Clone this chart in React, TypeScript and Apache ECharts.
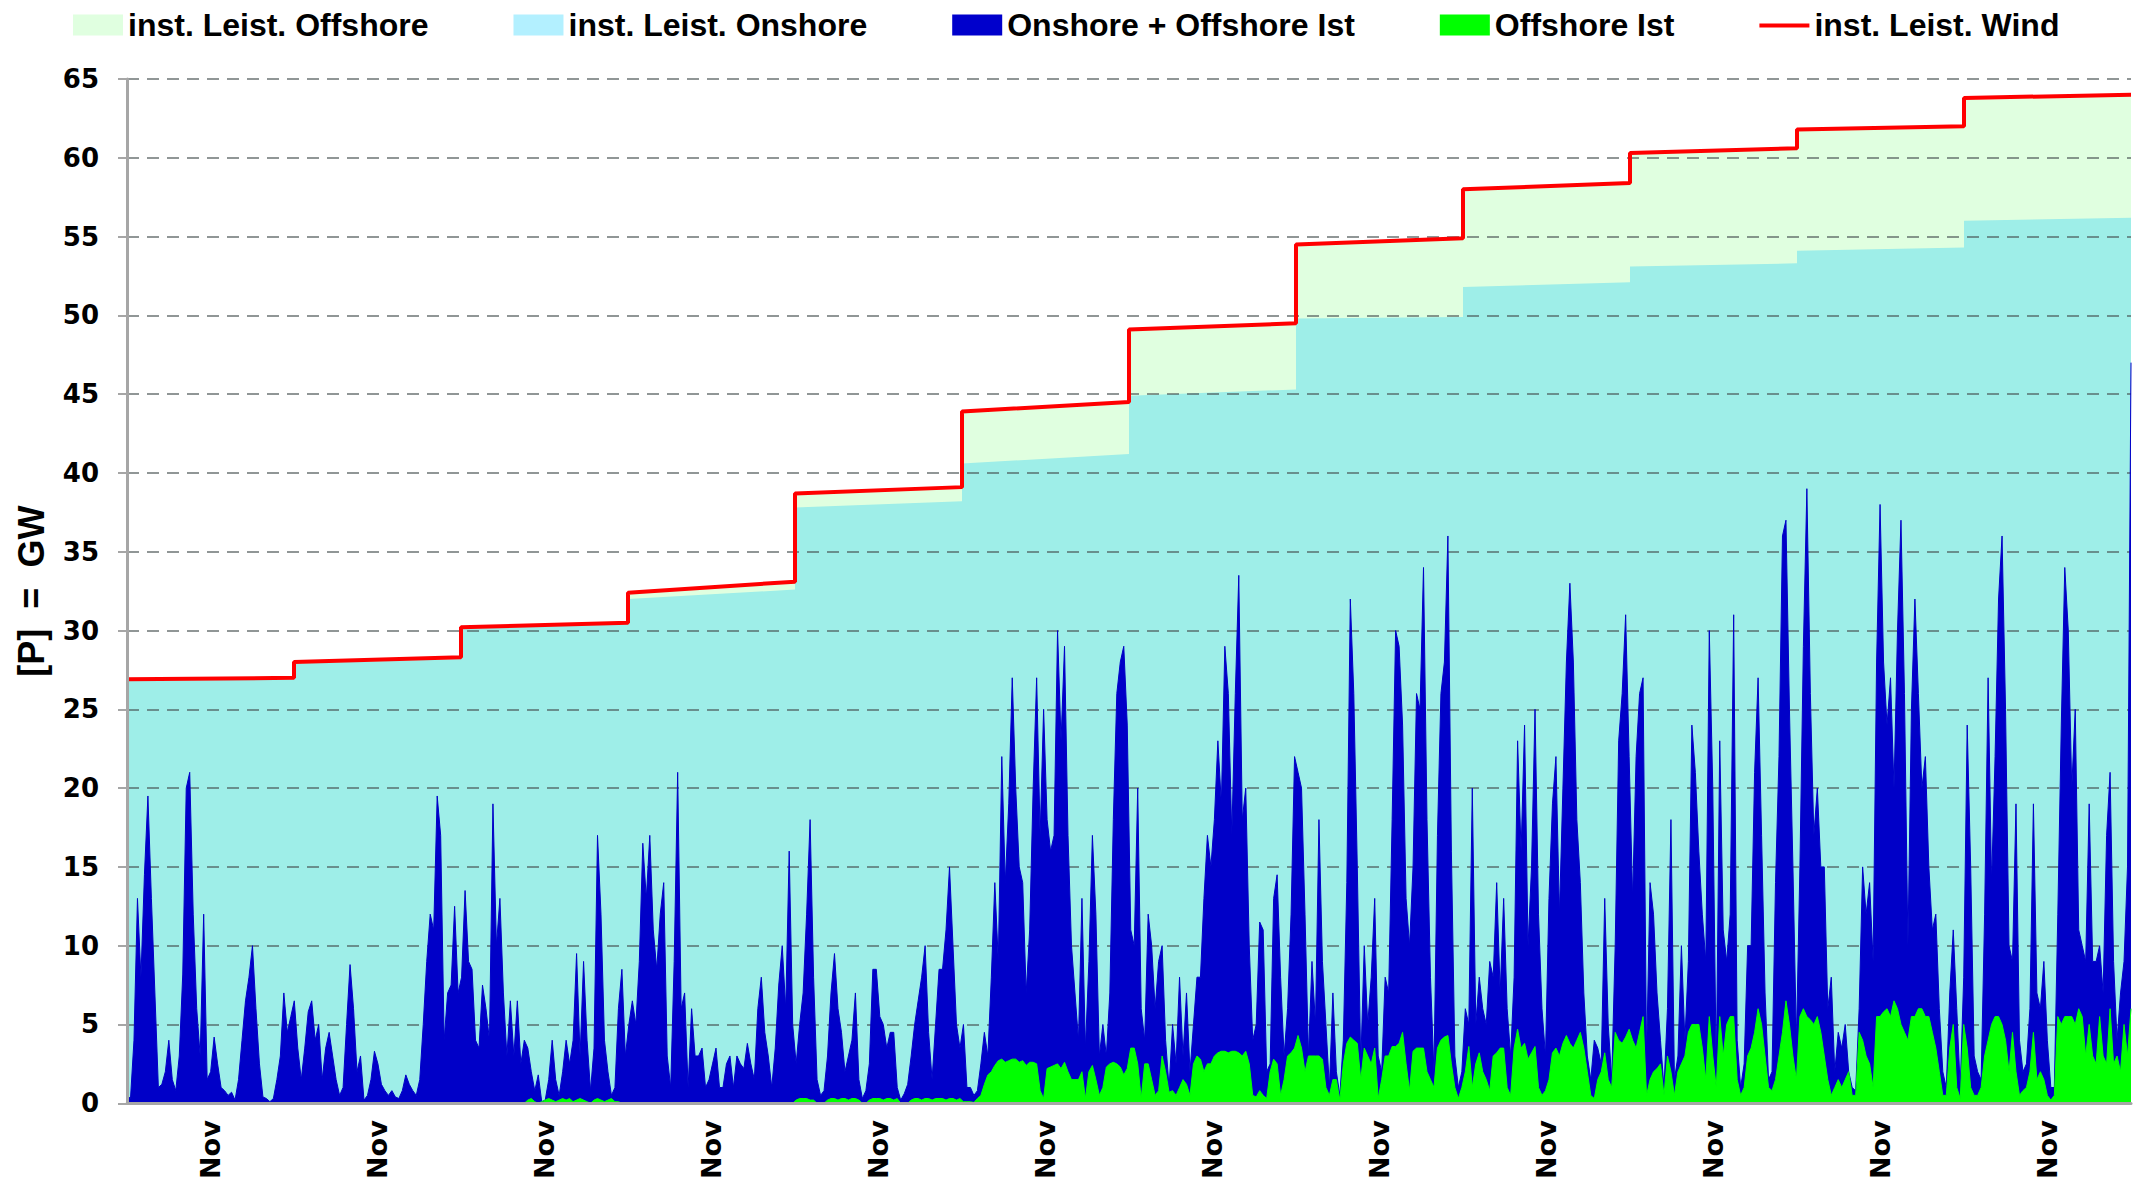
import React, { useEffect, useRef } from 'react';
import * as echarts from 'echarts';

// x-axis tick labels (one per year band)
const monthLabels = ['Nov', 'Nov', 'Nov', 'Nov', 'Nov', 'Nov', 'Nov', 'Nov', 'Nov', 'Nov', 'Nov', 'Nov'];

// installed capacity (GW) at start / end of each of the 12 years
const totalStart = [26.9, 28.0, 30.2, 32.4, 38.7, 43.9, 49.1, 54.5, 58.0, 60.3, 61.8, 63.8];
const totalEnd = [27.0, 28.3, 30.5, 33.1, 39.1, 44.5, 49.5, 54.9, 58.4, 60.6, 62.0, 64.0];
const onshoreStart = [26.8, 27.9, 30.1, 32.0, 37.8, 40.6, 44.9, 49.8, 51.8, 53.1, 54.1, 56.0];
const onshoreEnd = [26.9, 28.2, 30.4, 32.6, 38.2, 41.2, 45.3, 49.9, 52.1, 53.3, 54.3, 56.2];

// Onshore + Offshore Ist (GW), 48 readings per year
const istYear1 = [0.5, 0.3, 4, 13, 8, 14.5, 19.5, 13, 7, 1, 1.2, 2, 4, 1.5, 0.8, 3, 8.2, 20, 21, 12, 6, 3, 12, 1.5, 2, 4.2, 2.5, 1, 0.8, 0.5, 0.7, 0.2, 1.5, 4, 6.5, 8, 10, 6, 2.5, 0.4, 0.3, 0.1, 0.3, 1.5, 3, 7, 4.5, 5.5];
const istYear2 = [6.5, 3.5, 1.5, 3.5, 5.8, 6.5, 4, 5, 1.5, 3.5, 4.5, 3, 1.5, 0.5, 1, 5, 8.8, 6, 2, 3, 0.2, 0.5, 1.5, 3.3, 2.5, 1.2, 0.8, 0.5, 0.8, 0.4, 0.3, 0.8, 1.8, 1.2, 0.8, 0.5, 1.5, 5, 9, 12, 11, 19.5, 17, 4, 7, 7.5, 12.5, 7];
const istYear3 = [8, 13.5, 9, 8.5, 4, 3.5, 7.5, 6, 4, 19, 10, 13, 7, 3, 6.5, 3, 6.5, 2.5, 4, 3.5, 2, 0.8, 1.8, 0.1, 0.2, 1.5, 4, 1.5, 0.5, 2, 4, 2.5, 4, 9.5, 3, 9, 4, 0.8, 3.5, 17, 12, 4, 2, 0.5, 1, 6, 8.5, 3];
const istYear4 = [5, 6.5, 5, 9, 16.5, 13, 17, 11, 8.5, 12, 14, 3, 1, 9, 21, 6, 7, 1, 6, 3, 3, 3.5, 1, 1.5, 2.5, 3.5, 1, 1, 2.5, 3, 1, 3, 2.5, 2.2, 3.8, 2.5, 1.5, 6, 8, 4.5, 3, 1, 3.5, 7.5, 10, 6, 16, 5];
const istYear5 = [2.5, 5, 7, 12, 18, 8, 1.5, 0.5, 0.8, 3, 7, 9.5, 6, 4.5, 2, 3, 4, 7, 1.5, 0.3, 0.8, 2.5, 8.5, 8.5, 5.5, 5, 3.5, 4.5, 4.5, 1, 0.2, 0.6, 1.2, 3, 5, 6.5, 8, 10, 4.5, 1.5, 5, 8.5, 8.5, 11, 15, 10, 5, 3.5];
const istYear6 = [5, 1, 1, 0.5, 0.8, 2.5, 4.5, 3, 8, 14, 9, 22, 14, 19, 27, 20, 15, 14, 7, 11, 20, 27, 17, 25, 18, 16, 17, 30, 23, 29, 17, 10, 7, 4, 13, 3.5, 9, 17, 12, 3, 5, 3, 7, 18, 26, 28, 29, 24];
const istYear7 = [11, 10, 20, 6, 4, 12, 10, 6, 9, 10, 4, 1, 5, 2.5, 8, 3, 7, 2, 5, 8, 8, 13, 17, 15, 18, 23, 19, 29, 26, 17, 26, 33.5, 18, 20, 10, 4, 5, 11.5, 11, 2, 2.5, 13, 14.5, 8, 3, 6, 12, 22];
const istYear8 = [21, 20, 12, 3, 9, 5, 18, 9, 5, 1, 7, 2, 0.5, 4, 14, 32, 26, 15, 2.5, 10, 5, 8, 13, 3, 2, 8, 7, 18, 30, 29, 24, 13, 10, 15, 26, 25, 34, 18, 8, 2, 17, 26, 28, 36, 16, 3, 1, 2];
const istYear9 = [6, 5, 20, 5, 8, 6, 5, 9, 8, 14, 7, 13, 6, 3, 8, 23, 16, 24, 10, 15, 25, 12, 6, 3, 13, 19, 22, 12, 20, 28, 33, 28, 18, 14, 7, 3, 1.5, 4, 3.5, 2.5, 13, 5, 1.5, 10, 23, 26, 31, 22];
const istYear10 = [13, 22, 26, 27, 3, 14, 12, 7, 4, 1, 6, 18, 1.5, 3, 10, 4, 9, 24, 21, 16, 12, 9, 30, 20, 2, 23, 11, 9, 12, 31, 4, 1, 2.5, 10, 10, 21, 27, 17, 7, 1.5, 2, 14, 22, 36, 37, 25, 15, 4];
const istYear11 = [15, 29, 39, 26, 17, 20, 15, 15, 6, 8, 2, 4.5, 3.5, 5, 2, 1, 0.8, 6, 15, 12, 14, 9, 28, 38, 28, 24, 27, 20, 30, 37, 26, 10, 25, 32, 26, 20, 22, 15, 11, 12, 6, 2, 1, 7, 11, 6, 1, 8];
const istYear12 = [24, 15, 3, 2, 1.5, 12, 27, 14, 22, 32, 36, 25, 10, 9, 19, 4, 2, 2.5, 6, 19, 7, 6, 9, 4, 1, 1, 12, 24, 34, 30, 20, 25, 11, 10, 9, 19, 9, 9, 10, 7, 17, 21, 9, 4, 7, 9, 15, 47];

// Offshore Ist (GW), 48 readings per year
const offYear1 = [0, 0, 0, 0, 0, 0, 0, 0, 0, 0, 0, 0, 0, 0, 0, 0, 0, 0, 0, 0, 0, 0, 0, 0, 0, 0, 0, 0, 0, 0, 0, 0, 0, 0, 0, 0, 0, 0, 0, 0, 0, 0, 0, 0, 0, 0, 0, 0];
const offYear2 = [0, 0, 0, 0, 0, 0, 0, 0, 0, 0, 0, 0, 0, 0, 0, 0, 0, 0, 0, 0, 0, 0, 0, 0, 0, 0, 0, 0, 0, 0, 0, 0, 0, 0, 0, 0, 0, 0, 0, 0, 0, 0, 0, 0, 0, 0, 0, 0];
const offYear3 = [0, 0, 0, 0, 0, 0, 0, 0, 0, 0, 0, 0, 0, 0, 0, 0, 0, 0, 0, 0.2, 0.3, 0.1, 0, 0.1, 0.2, 0.3, 0.2, 0.1, 0.2, 0.3, 0.2, 0.3, 0.1, 0.2, 0.3, 0.2, 0.1, 0, 0.2, 0.3, 0.2, 0.1, 0.2, 0.3, 0.1, 0.1, 0, 0];
const offYear4 = [0, 0, 0, 0, 0, 0, 0, 0, 0, 0, 0, 0, 0, 0, 0, 0, 0, 0, 0, 0, 0, 0, 0, 0, 0, 0, 0, 0, 0, 0, 0, 0, 0, 0, 0, 0, 0, 0, 0, 0, 0, 0, 0, 0, 0, 0, 0, 0];
const offYear5 = [0.2, 0.3, 0.3, 0.3, 0.2, 0.2, 0, 0, 0, 0.2, 0.3, 0.3, 0.2, 0.3, 0.3, 0.2, 0.3, 0.3, 0.2, 0, 0, 0.2, 0.3, 0.3, 0.3, 0.2, 0.3, 0.3, 0.2, 0.3, 0, 0, 0, 0.2, 0.3, 0.3, 0.2, 0.3, 0.3, 0.2, 0.3, 0.3, 0.3, 0.2, 0.3, 0.3, 0.2, 0.3];
const offYear6 = [0.1, 0.1, 0.1, 0.05, 0.3, 0.5, 1.2, 1.8, 2, 2.4, 2.7, 2.8, 2.6, 2.7, 2.8, 2.8, 2.6, 2.7, 2.4, 2.6, 2.6, 2.5, 0.8, 0.3, 2.2, 2.3, 2.4, 2.5, 2.2, 2.6, 2.0, 1.5, 1.5, 1.5, 2.0, 0.3, 2.0, 2.4, 1.5, 0.5, 1.0, 2.3, 2.5, 2.6, 2.5, 2.3, 1.8, 2.2];
const offYear7 = [3.5, 3.5, 2.5, 0.3, 2.5, 2.5, 1.5, 0.5, 0.8, 3, 2, 0.7, 0.8, 0.5, 1, 1.5, 1.2, 0.5, 2.5, 3, 2.8, 2, 2.5, 2.5, 3, 3.2, 3.3, 3.3, 3.2, 3.3, 3.3, 3.2, 3, 3.3, 2.5, 0.5, 0.4, 0.8, 0.5, 0.3, 2, 2.8, 2.5, 0.5, 1.5, 3, 3.2, 3.5];
const offYear8 = [4.3, 3.5, 2, 3, 3, 3, 3, 2.8, 1, 0.5, 1.5, 1.5, 0.2, 2.5, 3.8, 4.2, 4, 3.8, 1.5, 3.5, 3, 2.5, 3.5, 0.3, 1.5, 3, 3, 3.6, 3.6, 3.8, 4.5, 2.5, 0.8, 3.3, 3.5, 3.5, 3.5, 2, 1.5, 1, 3.5, 4, 4.2, 4.3, 2.5, 1, 0.3, 1];
const offYear9 = [2, 3.6, 1, 2.5, 3.2, 2, 1.5, 0.8, 3, 3.2, 3.5, 3.5, 1, 0.5, 3.5, 4.7, 3.5, 3.8, 2.8, 3.2, 3.6, 1, 0.5, 0.8, 1.5, 3.2, 3.5, 3, 3.8, 4.3, 3.8, 3.5, 4, 4.5, 3.5, 2, 0.5, 0.3, 1.5, 2, 3.2, 1.5, 1, 4.5, 4, 3.8, 4.2, 4.7];
const offYear10 = [4, 3.5, 4.5, 5.5, 0.5, 1.5, 2, 2.2, 2.5, 0.5, 3, 2, 0.5, 2, 2.5, 3, 4.5, 5, 5, 5, 3.5, 1.5, 5.5, 3, 1, 5.5, 3, 5, 5.5, 5.5, 1.5, 0.5, 1, 3, 3.5, 4.5, 6, 5, 3, 1, 0.8, 1.5, 3, 4.5, 6.5, 5, 3, 1.5];
const offYear11 = [5.5, 6, 5.5, 5.3, 5, 5.5, 4.5, 3, 1.5, 0.5, 1, 1.5, 1, 1.5, 2, 0.5, 0.5, 4.5, 4, 3, 2.5, 1, 5.5, 5.5, 5.8, 6, 5.5, 6.5, 6, 5, 4.5, 4, 5.5, 5.5, 6, 6, 5.5, 5.5, 4.5, 3.5, 2, 0.5, 0.5, 3.5, 5, 1, 0.3, 5];
const offYear12 = [3.5, 1, 0.5, 0.5, 1, 3, 4, 5, 5.5, 5.5, 5, 4, 2, 4.5, 2, 0.5, 0.8, 1, 2, 4.5, 1.5, 2, 1.5, 0.5, 0.2, 0.5, 5.5, 5, 5.5, 5.5, 5.5, 5, 6, 5.5, 3, 5, 3, 2.5, 5.5, 3, 2.5, 6, 2.5, 3, 2, 5, 3, 6];

const seriesNames = {
  offshoreCap: 'inst. Leist. Offshore',
  onshoreCap: 'inst. Leist. Onshore',
  ist: 'Onshore + Offshore Ist',
  offIst: 'Offshore Ist',
  wind: 'inst. Leist. Wind',
};

function stepPoints(start: number[], end: number[]) {
  const pts: number[][] = [];
  for (let k = 0; k < start.length; k++) {
    pts.push([k, start[k]]);
    pts.push([k + 1, end[k]]);
  }
  return pts;
}

function spread(values: number[], years: number) {
  const n = values.length;
  return values.map((v, i) => [(i * years) / (n - 1), v]);
}

export default function App() {
  const ref = useRef<HTMLDivElement>(null);

  useEffect(() => {
    if (!ref.current) return;
    const chart = echarts.init(ref.current, undefined, { renderer: 'svg' });

    const ist = [
      ...istYear1, ...istYear2, ...istYear3, ...istYear4, ...istYear5, ...istYear6,
      ...istYear7, ...istYear8, ...istYear9, ...istYear10, ...istYear11, ...istYear12,
    ];
    const off = [
      ...offYear1, ...offYear2, ...offYear3, ...offYear4, ...offYear5, ...offYear6,
      ...offYear7, ...offYear8, ...offYear9, ...offYear10, ...offYear11, ...offYear12,
    ];
    const years = monthLabels.length;
    const totalPts = stepPoints(totalStart, totalEnd);
    const onshorePts = stepPoints(onshoreStart, onshoreEnd);

    const boldSans = { fontFamily: 'Liberation Sans', fontWeight: 'bold' as const, color: '#000' };
    const tickFont = { fontFamily: 'DejaVu Sans', fontWeight: 'bold' as const, color: '#000' };

    chart.setOption({
      animation: false,
      backgroundColor: '#ffffff',
      legend: {
        left: 68,
        top: 4,
        itemWidth: 50,
        itemHeight: 21,
        itemGap: 85,
        textStyle: { ...boldSans, fontSize: 32 },
        data: [
          { name: seriesNames.offshoreCap, icon: 'rect', itemStyle: { color: '#E0FFE0', borderWidth: 0 } },
          { name: seriesNames.onshoreCap, icon: 'rect', itemStyle: { color: '#B3F0FF', borderWidth: 0 } },
          { name: seriesNames.ist, icon: 'rect', itemStyle: { color: '#0000CC', borderWidth: 0 } },
          { name: seriesNames.offIst, icon: 'rect', itemStyle: { color: '#00FF00', borderWidth: 0 } },
          {
            name: seriesNames.wind,
            icon: 'path://M0,0L0.1,0M0,9L50,9L50,13L0,13ZM50,21L49.9,21',
            itemStyle: { color: '#FF0000', borderWidth: 0 },
          },
        ],
      },
      grid: { left: 127, right: 3, top: 79, bottom: 78, containLabel: false },
      xAxis: [
        {
          type: 'value',
          min: 0,
          max: years,
          axisLabel: { show: false },
          axisTick: { show: false },
          splitLine: { show: false },
          axisLine: { show: true, lineStyle: { color: '#A6A6A6', width: 3 } },
          z: 5,
        },
        {
          type: 'category',
          data: monthLabels,
          position: 'bottom',
          axisLine: { show: false },
          axisTick: { show: false },
          splitLine: { show: false },
          axisLabel: { ...tickFont, fontSize: 27, rotate: 90, margin: 17, interval: 0 },
        },
      ],
      yAxis: [
        {
          type: 'value',
          min: 0,
          max: 65,
          interval: 5,
          name: '[P]  =  GW',
          nameLocation: 'middle',
          nameGap: 78,
          nameRotate: 90,
          nameTextStyle: { ...boldSans, fontSize: 36 },
          axisLine: { show: true, lineStyle: { color: '#A6A6A6', width: 3 } },
          axisTick: { show: true, length: 9, lineStyle: { color: '#A6A6A6', width: 2 } },
          axisLabel: { ...tickFont, fontSize: 26, margin: 28 },
          splitLine: { show: false },
          z: 5,
        },
        {
          type: 'value',
          min: 0,
          max: 65,
          interval: 5,
          position: 'left',
          axisLine: { show: false },
          axisTick: { show: false },
          axisLabel: { show: false },
          splitLine: { show: true, lineStyle: { type: [12, 8], color: 'rgba(70,80,80,0.6)', width: 2 } },
          z: 1.5,
        },
      ],
      series: [
        {
          name: seriesNames.offshoreCap,
          type: 'line',
          data: totalPts,
          symbol: 'none',
          z: 1,
          itemStyle: { color: '#E0FFE0' },
          lineStyle: { width: 0, color: '#E0FFE0' },
          areaStyle: { color: '#E0FFE0', opacity: 1 },
        },
        {
          name: seriesNames.onshoreCap,
          type: 'line',
          data: onshorePts,
          symbol: 'none',
          z: 1,
          itemStyle: { color: '#B3F0FF' },
          lineStyle: { width: 0, color: '#9EEEE8' },
          areaStyle: { color: '#9EEEE8', opacity: 1 },
        },
        {
          name: seriesNames.ist,
          type: 'line',
          data: spread(ist, years),
          symbol: 'none',
          z: 2,
          itemStyle: { color: '#0000C8' },
          lineStyle: { width: 1, color: '#0000C8' },
          areaStyle: { color: '#0000C8', opacity: 1 },
        },
        {
          name: seriesNames.offIst,
          type: 'line',
          data: spread(off, years),
          symbol: 'none',
          z: 2,
          itemStyle: { color: '#00FF00' },
          lineStyle: { width: 1, color: '#00FF00' },
          areaStyle: { color: '#00FF00', opacity: 1 },
        },
        {
          name: seriesNames.wind,
          type: 'line',
          data: totalPts,
          symbol: 'none',
          z: 3,
          color: '#FF0000',
          itemStyle: { color: '#FF0000' },
          lineStyle: { width: 4, color: '#FF0000' },
        },
      ],
    });

    return () => {
      chart.dispose();
    };
  }, []);

  return (
    <div
      ref={ref}
      style={{ position: 'absolute', left: 0, top: 0, width: '2134px', height: '1182px', background: '#fff' }}
    />
  );
}
